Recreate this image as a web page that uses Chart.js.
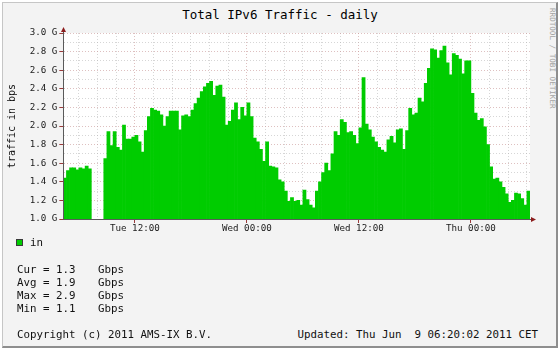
<!DOCTYPE html>
<html>
<head>
<meta charset="utf-8">
<script src="https://cdn.jsdelivr.net/npm/chart.js@4.4.0/dist/chart.umd.min.js"></script>
<style>
body { margin:0; background:#fff; font-family:"DejaVu Sans Mono", monospace; }
#frame { position:absolute; left:2px; top:2px; width:556px; height:346px; box-sizing:border-box;
  background:#f3f3f3; border:1px solid #c6c6c6; border-right:2px solid #8e8e8e; border-bottom:2px solid #8e8e8e; }
#box { position:absolute; left:0; top:0; width:560px; height:240px; }
.t { position:absolute; white-space:pre; color:#111; font-size:10.8px; line-height:13px; }
#title { position:absolute; left:0; top:7px; width:560px; text-align:center; font-size:12.5px; line-height:16px; color:#000; }
#mark { position:absolute; left:547px; top:8px; writing-mode:vertical-rl; font-size:7.6px; line-height:10px; color:#a4a4a4; white-space:pre; }
#swatch { position:absolute; left:16px; top:239px; width:5px; height:5px; background:#00cc00; border:1px solid #3a3a3a; }
</style>
</head>
<body>
<div id="frame"></div>
<div id="title">Total IPv6 Traffic - daily</div>
<div id="mark">RRDTOOL / TOBI OETIKER</div>
<div id="box"><canvas id="chart"></canvas></div>
<div id="swatch"></div>
<div class="t" style="left:30px;top:236px">in</div>
<div id="stats"></div>
<div class="t" style="left:17px;top:328px">Copyright (c) 2011 AMS-IX B.V.</div>
<div class="t" style="right:22px;top:328px">Updated: Thu Jun  9 06:20:02 2011 CET</div>
<script>
// 20 minute samples, starting Tue 04:20 (hours counted from Tue 00:00)
const startHour = 4 + 20 / 60;
const stepHours = 20 / 60;
const trafficIn = [
  1.44, 1.52, 1.55, 1.55, 1.53, 1.55, 1.54, 1.57, 1.54, null,
  null, null, null, 1.65, 1.94, 1.79, 1.94, 1.77, 1.74, 2.01,
  1.86, 1.86, 1.88, 1.90, 1.83, 1.72, 1.95, 2.10, 2.19, 2.17,
  2.16, 2.12, 2.00, 2.10, 2.16, 2.16, 2.16, 1.96, 2.11, 2.12,
  2.10, 2.17, 2.24, 2.30, 2.37, 2.42, 2.46, 2.48, 2.33, 2.43,
  2.44, 2.31, 2.01, 2.05, 2.17, 2.25, 2.07, 2.20, 2.11, 2.25,
  2.10, 1.87, 1.83, 1.75, 1.62, 1.83, 1.57, 1.56, 1.55, 1.42,
  1.40, 1.30, 1.19, 1.23, 1.19, 1.20, 1.15, 1.31, 1.21, 1.15,
  1.12, 1.30, 1.40, 1.50, 1.60, 1.52, 1.70, 1.94, 1.90, 2.07,
  2.04, 1.93, 1.94, 1.90, 1.81, 1.98, 2.52, 2.02, 1.96, 1.88,
  1.83, 1.77, 1.74, 1.72, 1.85, 1.89, 1.82, 1.96, 1.97, 1.75,
  1.95, 2.19, 2.12, 2.14, 2.30, 2.26, 2.46, 2.62, 2.83, 2.82,
  2.73, 2.81, 2.86, 2.68, 2.55, 2.78, 2.76, 2.72, 2.56, 2.70,
  2.70, 2.35, 2.14, 2.06, 2.08, 1.99, 1.80, 1.56, 1.43, 1.44,
  1.40, 1.34, 1.27, 1.18, 1.20, 1.28, 1.27, 1.22, 1.15, 1.30
];
const yMin = 1.0;
const yMax = 3.0;
const gridHours = [6, 8, 10, 12, 14, 16, 18, 20, 22, 24, 26, 28, 30, 32, 34, 36, 38, 40, 42, 44, 46, 48, 50, 52, 54];
const labelHours = [12, 24, 36, 48];
const labelTexts = ['Tue 12:00', 'Wed 00:00', 'Wed 12:00', 'Thu 00:00'];
const statNames = ['Cur', 'Avg', 'Max', 'Min'];
const statValues = ['1.3', '1.9', '2.9', '1.1'];

let statsBox = document.getElementById('stats');
for (let i = 0; i < statNames.length; i++) {
  let top = 263 + i * 13;
  statsBox.innerHTML += '<div class="t" style="left:17px;top:' + top + 'px">' + statNames[i] + ' = ' + statValues[i] + '</div>' +
    '<div class="t" style="left:98px;top:' + top + 'px">Gbps</div>';
}

let points = trafficIn.map((v, i) => ({ x: startHour + (i + 0.5) * stepHours, y: v }));
const endHour = startHour + trafficIn.length * stepHours;

const majorY = (v) => Math.abs(v * 5 - Math.round(v * 5)) < 1e-6;
const majorX = (v) => v % 12 === 0;
const tickVal = (c) => (c && c.tick) ? c.tick.value : NaN;

const plotDecor = {
  id: 'plotDecor',
  beforeDraw(chart) {
    const { ctx, chartArea: a } = chart;
    ctx.save();
    ctx.fillStyle = '#ffffff';
    ctx.fillRect(a.left, a.top, a.right - a.left, a.bottom - a.top);
    ctx.restore();
  },
  afterDraw(chart) {
    const { ctx, chartArea: a } = chart;
    const lx = Math.round(a.left) + 0.5;
    const by = Math.round(a.bottom) + 0.5;
    ctx.save();
    ctx.strokeStyle = '#5a5a5a';
    ctx.lineWidth = 1;
    ctx.beginPath();
    ctx.moveTo(lx, a.top); ctx.lineTo(lx, a.top - 2);
    ctx.moveTo(a.right, by); ctx.lineTo(a.right + 2, by);
    ctx.stroke();
    ctx.fillStyle = '#8b1c1c';
    ctx.beginPath();
    ctx.moveTo(lx - 2.5, a.top - 1); ctx.lineTo(lx + 2.5, a.top - 1); ctx.lineTo(lx, a.top - 6);
    ctx.closePath(); ctx.fill();
    ctx.beginPath();
    ctx.moveTo(a.right + 1, by - 2.5); ctx.lineTo(a.right + 1, by + 2.5); ctx.lineTo(a.right + 6, by);
    ctx.closePath(); ctx.fill();
    ctx.restore();
  }
};

Chart.defaults.font.family = '"DejaVu Sans Mono", monospace';

new Chart(document.getElementById('chart').getContext('2d'), {
  type: 'bar',
  data: {
    datasets: [{
      label: 'in',
      data: points,
      backgroundColor: '#00cc00',
      borderWidth: 0,
      barPercentage: 1,
      categoryPercentage: 1
    }]
  },
  options: {
    responsive: true,
    maintainAspectRatio: false,
    animation: false,
    layout: { padding: { left: 6, top: 33, right: 30, bottom: 6 } },
    plugins: { legend: { display: false }, tooltip: { enabled: false } },
    scales: {
      x: {
        type: 'linear',
        offset: false,
        min: startHour,
        max: endHour,
        afterFit: (scale) => { scale.height = 15; },
        afterBuildTicks: (scale) => { scale.ticks = gridHours.map(h => ({ value: h })); },
        grid: {
          offset: false,
          color: (c) => majorX(tickVal(c)) ? 'rgba(200,150,150,0.6)' : 'rgba(180,180,180,0.55)',
          tickColor: (c) => majorX(tickVal(c)) ? '#9a3a3a' : 'rgba(0,0,0,0)',
          tickLength: 4,
          lineWidth: 1
        },
        border: { display: true, color: '#5a5a5a', width: 1, dash: [1, 2], z: 1 },
        ticks: {
          autoSkip: false,
          maxRotation: 0,
          padding: 0,
          color: '#1a1a1a',
          font: { size: 9.2 },
          callback: (v) => {
            let k = labelHours.indexOf(v);
            return k >= 0 ? labelTexts[k] : '';
          }
        }
      },
      y: {
        min: yMin,
        max: yMax,
        afterFit: (scale) => { scale.width = 57.33; },
        grid: {
          color: (c) => majorY(tickVal(c)) ? 'rgba(200,150,150,0.6)' : 'rgba(180,180,180,0.55)',
          tickColor: (c) => majorY(tickVal(c)) ? '#9a3a3a' : 'rgba(0,0,0,0)',
          tickLength: 4,
          lineWidth: 1
        },
        border: { display: true, color: '#5a5a5a', width: 1, dash: [1, 2], z: 1 },
        ticks: {
          stepSize: 0.1,
          autoSkip: false,
          padding: 2,
          color: '#1a1a1a',
          font: { size: 9.2 },
          callback: (v) => majorY(v) ? v.toFixed(1) + ' G' : ''
        },
        title: {
          display: true,
          text: 'traffic in bps',
          color: '#111',
          font: { size: 10 },
          padding: 0
        }
      }
    }
  },
  plugins: [plotDecor]
});
</script>
</body>
</html>
